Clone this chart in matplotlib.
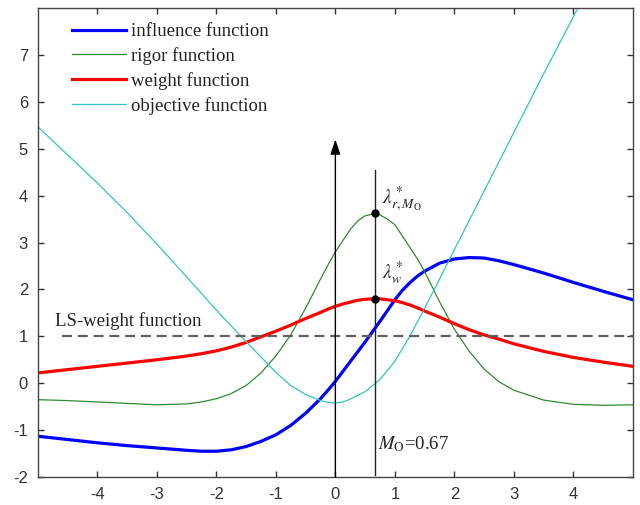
import matplotlib
matplotlib.use("Agg")
import matplotlib.pyplot as plt

# curve samples
x_curve = [-5, -4.5, -4, -3.5, -3, -2.5, -2.25, -2, -1.75, -1.5, -1.25, -1,
           -0.75, -0.5, -0.25, -0.125, 0, 0.125, 0.25, 0.375, 0.5, 0.67, 0.75,
           0.875, 1.0, 1.125, 1.25, 1.375, 1.5, 1.75, 2.0, 2.25, 2.5, 2.75,
           3.0, 3.5, 4.0, 4.5, 5.0]
influence = [-1.13, -1.20, -1.27, -1.33, -1.38, -1.43, -1.45, -1.45, -1.42,
             -1.35, -1.24, -1.10, -0.90, -0.64, -0.33, -0.15, 0.04, 0.25, 0.46,
             0.67, 0.88, 1.18, 1.32, 1.55, 1.78, 1.98, 2.14, 2.28, 2.39, 2.56,
             2.65, 2.68, 2.67, 2.61, 2.53, 2.35, 2.15, 1.96, 1.78]
rigor = [-0.35, -0.37, -0.40, -0.43, -0.46, -0.44, -0.40, -0.33, -0.22, -0.05,
         0.22, 0.58, 1.03, 1.60, 2.22, 2.52, 2.80, 3.04, 3.28, 3.46, 3.57, 3.62,
         3.59, 3.50, 3.38, 3.14, 2.90, 2.66, 2.38, 1.74, 1.15, 0.68, 0.30, 0.03,
         -0.15, -0.36, -0.45, -0.47, -0.46]
weight = [0.22, 0.29, 0.36, 0.43, 0.50, 0.58, 0.63, 0.69, 0.77, 0.87, 0.99,
          1.11, 1.24, 1.38, 1.51, 1.58, 1.64, 1.69, 1.73, 1.77, 1.79, 1.80,
          1.80, 1.78, 1.76, 1.72, 1.67, 1.61, 1.54, 1.41, 1.27, 1.14, 1.03,
          0.94, 0.84, 0.68, 0.55, 0.45, 0.36]

x_obj = [-5, -4.5, -4, -3.5, -3, -2.5, -2, -1.75, -1.5, -1.25, -1, -0.75, -0.5,
         -0.25, -0.125, 0, 0.125, 0.25, 0.5, 0.75, 1.0, 1.25, 1.5, 1.75, 2.0,
         2.5, 3.0, 3.5, 4.0, 4.1]
objective = [5.47, 4.87, 4.27, 3.64, 2.97, 2.27, 1.56, 1.22, 0.89, 0.56, 0.23,
             -0.05, -0.24, -0.37, -0.41, -0.42, -0.40, -0.34, -0.18, 0.08,
             0.47, 1.0, 1.6, 2.22, 2.85, 4.1, 5.35, 6.6, 7.82, 8.06]

labels = ["influence function", "rigor function", "weight function",
          "objective function"]
ls_x = [-4.6, 5.0]
ls_y = [1.0, 1.0]
m0 = 0.67
rigor_peak = 3.62
weight_peak = 1.80
xticks = [-4, -3, -2, -1, 0, 1, 2, 3, 4]
yticks = [-2, -1, 0, 1, 2, 3, 4, 5, 6, 7]

plt.rcParams["mathtext.fontset"] = "stix"
serif = ["Liberation Serif", "DejaVu Serif"]

fig = plt.figure(figsize=(6.4, 5.05), dpi=100)
ax = fig.add_axes([0.059, 0.0554, 0.93, 0.9286])

ax.plot(x_curve, influence, color="#0000ff", lw=2.3, label=labels[0])
ax.plot(x_curve, rigor, color="#2f8a2f", lw=0.9, label=labels[1])
ax.plot(x_curve, weight, color="#ff0000", lw=2.3, label=labels[2])
ax.plot(x_obj, objective, color="#33c4c4", lw=0.9, label=labels[3])
ax.plot(ls_x, ls_y, color="#606060", lw=1.6, dashes=(4.5, 2.6))

# axis arrow and M_O line
ax.annotate("", xy=(0, 5.2), xytext=(0, -2),
            arrowprops=dict(arrowstyle="-|>,head_length=0.9,head_width=0.3",
                            color="black", lw=1.0, shrinkA=0, shrinkB=0))
ax.plot([m0, m0], [-1.95, 4.55], color="#222222", lw=1.0)
ax.plot([m0, m0], [rigor_peak, weight_peak], "o", color="black", ms=5)

ax.text(0.78, 3.83, r"$\lambda^*_{r,M_{\mathrm{O}}}$", fontsize=14,
        color="#222222")
ax.text(0.78, 2.23, r"$\lambda^*_{w}$", fontsize=14, color="#222222")
ax.text(0.71, -1.40, r"$M_{\mathrm{O}}$=0.67", fontsize=13.5, family=serif,
        color="#222222")
ax.text(-4.71, 1.21, "LS-weight function", fontsize=13.5, family=serif,
        color="#222222")

ax.set_xlim(-5, 5)
ax.set_ylim(-2, 8)
ax.set_xticks(xticks)
ax.set_yticks(yticks)
ax.set_xticklabels([str(t) for t in xticks])
ax.set_yticklabels([str(t) for t in yticks])
ax.tick_params(direction="in", length=4, width=1, top=True, right=True,
               labelsize=12, colors="#333333", pad=7)
for lab in ax.get_xticklabels() + ax.get_yticklabels():
    lab.set_family(["Liberation Sans", "DejaVu Sans"])
for sp in ax.spines.values():
    sp.set_color("#444444")
    sp.set_linewidth(1.0)

leg = ax.legend(loc="upper left", bbox_to_anchor=(0.057, 0.968), frameon=False,
                prop={"family": serif, "size": 13.5}, handlelength=2.9,
                handletextpad=0.25, labelspacing=0.37, borderpad=0,
                borderaxespad=0)
for t in leg.get_texts():
    t.set_color("#222222")

fig.savefig("out.png", dpi=100)
